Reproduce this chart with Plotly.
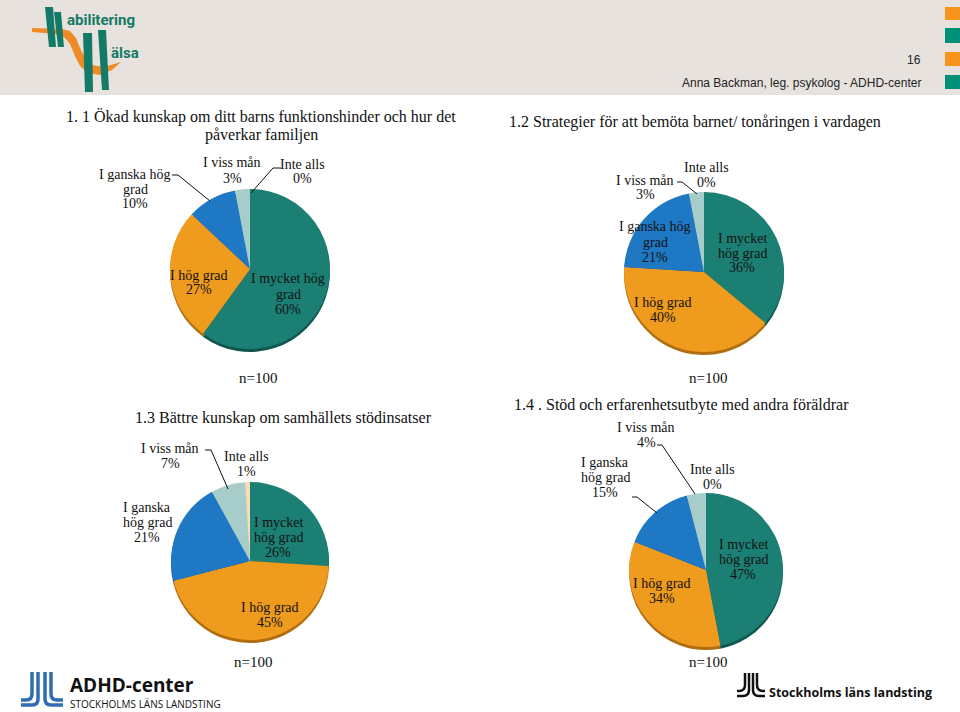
import plotly.graph_objects as go

W, H = 960, 712

# ---------------- data ----------------
categories = ["I mycket hög grad", "I hög grad", "I ganska hög grad", "I viss mån", "Inte alls"]
values_1_1 = [60, 27, 10, 3, 0]
values_1_2 = [36, 40, 21, 3, 0]
values_1_3 = [26, 45, 21, 7, 1]
values_1_4 = [47, 34, 15, 4, 0]
n_values = [100, 100, 100, 100]

title_1_1 = ["1. 1 Ökad kunskap om ditt barns funktionshinder och hur det", "påverkar familjen"]
title_1_2 = ["1.2 Strategier för att bemöta barnet/ tonåringen i vardagen"]
title_1_3 = ["1.3 Bättre kunskap om samhällets stödinsatser"]
title_1_4 = ["1.4 . Stöd och erfarenhetsutbyte med andra föräldrar"]

# ---------------- style ----------------
slice_colors = ["#1B7F74", "#EE9B1E", "#1E78C4", "#A6CDC9", "#F6DDB5"]
rim_colors = ["#0E564E", "#B06E10", "#135693", "#7EA29E", "#C9AE86"]
SERIF = "Liberation Serif, Times New Roman, serif"
SANS = "Liberation Sans, Arial, sans-serif"


def px(x):
    return x / W


def py(y):
    return 1 - y / H


def path(points, close=False):
    s = "M " + " L ".join(f"{px(x):.5f},{py(y):.5f}" for x, y in points)
    return s + (" Z" if close else "")


charts = [
    dict(values=values_1_1, cx=250, cy=269, r=80,
         labels=[(2, 135, 174, [3, 1]), (3, 232, 163, [3]), (4, 302, 164, [2]),
                 (1, 199, 275, [3]), (0, 288, 279, [3, 1])],
         leaders=[[(172, 175), (178, 175), (210, 201)],
                  [(281, 168), (273, 168), (251, 193)]],
         n_pos=(258, 378)),
    dict(values=values_1_2, cx=704, cy=272, r=80,
         labels=[(4, 706, 167, [2]), (3, 645, 180, [3]), (2, 655, 227, [3, 1]),
                 (0, 742, 238, [2, 2]), (1, 663, 302, [3])],
         leaders=[[(677, 182), (682, 182), (697, 194)]],
         n_pos=(708, 378)),
    dict(values=values_1_3, cx=250, cy=561, r=79,
         labels=[(3, 170, 448, [3]), (4, 247, 456, [2]), (2, 147, 507, [2, 2]),
                 (0, 278, 522, [2, 2]), (1, 270, 607, [3])],
         leaders=[[(205, 450), (211, 450), (228, 489)]],
         n_pos=(253, 662)),
    dict(values=values_1_4, cx=706, cy=570, r=77,
         labels=[(3, 646, 427, [3]), (2, 605, 462, [2, 2]), (4, 712, 469, [2]),
                 (0, 743, 544, [2, 2]), (1, 662, 583, [3])],
         leaders=[[(657, 445), (662, 445), (695, 494)],
                  [(632, 497), (637, 497), (657, 513)]],
         n_pos=(708, 662)),
]

fig = go.Figure()
shapes = []
annotations = []


def add_text(text, x, y, size=14, color="#111111", family=SERIF, xanchor="center", weight="normal"):
    annotations.append(dict(text=text, x=px(x), y=py(y), xref="paper", yref="paper",
                            showarrow=False, xanchor=xanchor, yanchor="middle",
                            font=dict(family=family, size=size, color=color, weight=weight)))


for ch in charts:
    cx, cy, r = ch["cx"], ch["cy"], ch["r"]
    # 3D rim (slightly lower, darker copy)
    for dy, cols in ((3, rim_colors), (0, slice_colors)):
        fig.add_trace(go.Pie(
            labels=categories, values=ch["values"], sort=False, direction="clockwise",
            rotation=0, textinfo="none", hoverinfo="label+percent", showlegend=False,
            marker=dict(colors=cols, line=dict(width=0)),
            domain=dict(x=[px(cx - r), px(cx + r)], y=[py(cy + dy + r), py(cy + dy - r)]),
        ))
    for idx, x, y0, split in ch["labels"]:
        words = categories[idx].split(" ")
        lines, k = [], 0
        for n in split:
            lines.append(" ".join(words[k:k + n]))
            k += n
        lines.append(f"{ch['values'][idx]}%")
        for i, ln in enumerate(lines):
            add_text(ln, x, y0 + 15 * i, size=14)
    for pts in ch["leaders"]:
        shapes.append(dict(type="path", xref="paper", yref="paper", path=path(pts),
                           line=dict(color="#111111", width=1)))

for ch, n in zip(charts, n_values):
    add_text(f"n={n}", ch["n_pos"][0], ch["n_pos"][1], size=15)

# titles
add_text(title_1_1[0], 261, 117, size=16)
add_text(title_1_1[1], 261, 135, size=16)
add_text(title_1_2[0], 507, 122, size=16, xanchor="left")
add_text(title_1_3[0], 283, 418, size=16)
add_text(title_1_4[0], 512, 405, size=16, xanchor="left")

# ---------------- header ----------------
shapes.append(dict(type="rect", xref="paper", yref="paper", x0=0, x1=1, y0=py(95), y1=1,
                   fillcolor="#E8E2DE", line=dict(width=0), layer="below"))
for (y0, y1), col in zip([(7, 20), (28, 43), (52, 66), (75, 89)],
                         ["#F7941D", "#00907A", "#F7941D", "#00907A"]):
    shapes.append(dict(type="rect", xref="paper", yref="paper", x0=px(945), x1=1,
                       y0=py(y1), y1=py(y0), fillcolor=col, line=dict(width=0), layer="below"))
add_text("16", 923, 60, size=12, family=SANS, color="#222222", xanchor="right")
add_text("Anna Backman, leg. psykolog - ADHD-center", 923, 83, size=12, family=SANS,
         color="#222222", xanchor="right")

# Habilitering Hälsa logo
swoosh = path([(32, 28), (62, 29), (70, 31), (76, 38), (80, 48), (85, 58), (92, 65),
               (104, 67), (121, 62), (112, 70), (100, 75), (88, 73), (80, 66), (75, 56),
               (70, 44), (64, 37), (56, 34), (32, 32)], close=True)
shapes.append(dict(type="path", xref="paper", yref="paper", path=swoosh,
                   fillcolor="#F08A24", line=dict(width=0)))
for pts in [[(45, 7), (53, 7), (56, 47), (49, 47)],
            [(54, 12), (61, 12), (64, 47), (58, 47)],
            [(83, 33), (92, 33), (93, 92), (85, 92)],
            [(98, 30), (106, 30), (109, 90), (102, 90)]]:
    shapes.append(dict(type="path", xref="paper", yref="paper", path=path(pts, close=True),
                       fillcolor="#127A66", line=dict(width=0)))
add_text("abilitering", 65, 20, size=15, family="Liberation Sans Narrow, Roboto, sans-serif",
         color="#127A66", xanchor="left", weight="bold")
add_text("älsa", 109, 53, size=15, family="Liberation Sans Narrow, Roboto, sans-serif",
         color="#127A66", xanchor="left", weight="bold")


# ---------------- footer logos ----------------
def jl_mark(x_l_out, x_l_in, x_r_in, x_r_out, top, y_a, y_b, left, right, color, width):
    q = 6
    strokes = [
        f"M {px(x_l_out)},{py(top)} L {px(x_l_out)},{py(y_a - q)} Q {px(x_l_out)},{py(y_a)} {px(x_l_out - q)},{py(y_a)} L {px(left)},{py(y_a)}",
        f"M {px(x_l_in)},{py(top)} L {px(x_l_in)},{py(y_b - q)} Q {px(x_l_in)},{py(y_b)} {px(x_l_in - q)},{py(y_b)} L {px(left)},{py(y_b)}",
        f"M {px(x_r_in)},{py(top)} L {px(x_r_in)},{py(y_b - q)} Q {px(x_r_in)},{py(y_b)} {px(x_r_in + q)},{py(y_b)} L {px(right)},{py(y_b)}",
        f"M {px(x_r_out)},{py(top)} L {px(x_r_out)},{py(y_a - q)} Q {px(x_r_out)},{py(y_a)} {px(x_r_out + q)},{py(y_a)} L {px(right)},{py(y_a)}",
    ]
    for s in strokes:
        shapes.append(dict(type="path", xref="paper", yref="paper", path=s,
                           line=dict(color=color, width=width)))


jl_mark(32, 38, 45, 51, 672, 700, 705, 21, 63, "#2E6DB4", 3.5)
add_text("ADHD-center", 68, 685, size=19, family="Open Sans, sans-serif", color="#111111",
         xanchor="left", weight="bold")
add_text("STOCKHOLMS LÄNS LANDSTING", 68, 704, size=10, family="Open Sans, sans-serif",
         color="#111111", xanchor="left")

jl_mark(745, 749, 753, 757, 673, 691, 696, 737, 765, "#111111", 2.5)
add_text("Stockholms läns landsting", 767, 692, size=12.5, family="Open Sans, sans-serif",
         color="#111111", xanchor="left", weight="bold")

fig.update_layout(
    width=W, height=H, margin=dict(l=0, r=0, t=0, b=0),
    paper_bgcolor="white", plot_bgcolor="white",
    shapes=shapes, annotations=annotations, showlegend=False,
)

fig.write_html("out.html", config={"displayModeBar": False},
               post_script="document.body.style.margin='0';document.body.style.overflow='hidden';")
